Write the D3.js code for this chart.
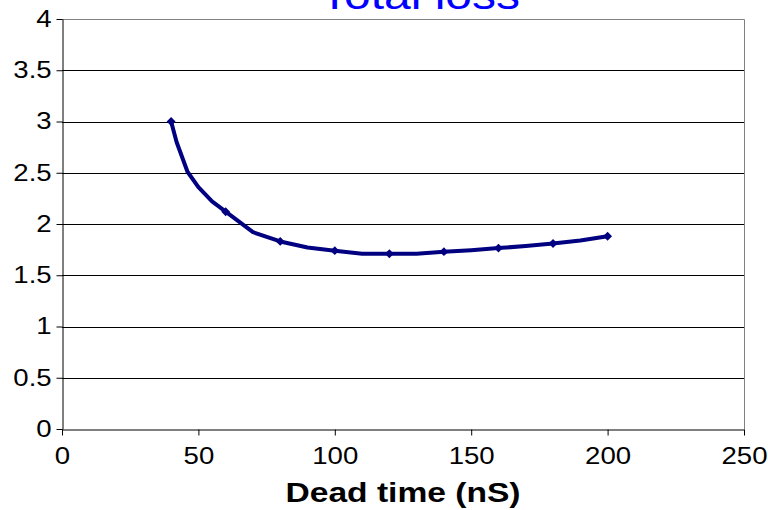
<!DOCTYPE html>
<html>
<head>
<meta charset="utf-8">
<script src="https://cdn.jsdelivr.net/npm/d3@7"></script>
<style>
  body { margin: 0; background: #fff; }
  text { font-family: Arial, "Liberation Sans", sans-serif; }
</style>
</head>
<body>
<script>
// dead time (nS) vs total loss, the line has more vertices than markers
var lossX = [40, 42, 46, 50, 55, 60, 70, 80, 90, 100, 110, 120, 130, 140, 150, 160, 170, 180, 190, 200];
var lossY = [3.0, 2.80, 2.51, 2.36, 2.22, 2.12, 1.92, 1.83, 1.77, 1.74, 1.71, 1.71, 1.71, 1.73, 1.745, 1.765, 1.785, 1.81, 1.84, 1.88];
var markerX = [40, 60, 80, 100, 120, 140, 160, 180, 200];

var xTicks = [0, 50, 100, 150, 200, 250],
    yTicks = [0, 0.5, 1, 1.5, 2, 2.5, 3, 3.5, 4];

var width = 768,
    height = 510,
    stretch = 1.2;

var plotL = 62, plotR = 744, plotT = 19, plotB = 429;

var x = d3.scaleLinear().domain([0, 250]).range([plotL, plotR]);
var y = d3.scaleLinear().domain([0, 4]).range([plotB, plotT]);

var svg = d3.select('body')
  .append('svg')
  .attr('width', width)
  .attr('height', height);

// grid lines
svg.append('g')
  .selectAll('line')
  .data(yTicks.filter(function(d) { return d > 0 && d < 4; }))
  .enter().append('line')
  .attr('x1', plotL)
  .attr('x2', plotR)
  .attr('y1', function(d) { return Math.round(y(d)) + 0.5; })
  .attr('y2', function(d) { return Math.round(y(d)) + 0.5; })
  .attr('stroke', '#000')
  .attr('stroke-width', 1);

// plot border (top and right in grey)
svg.append('path')
  .attr('d', 'M' + plotL + ',' + (plotT + 0.5) + 'H' + (plotR + 0.5) + 'V' + plotB)
  .attr('fill', 'none')
  .attr('stroke', '#808080')
  .attr('stroke-width', 1);

var xAxis = svg.append('g')
  .attr('transform', 'translate(0,' + (plotB + 0.5) + ')')
  .call(d3.axisBottom(x).tickValues(xTicks).tickSizeInner(6).tickSizeOuter(0));

var yAxis = svg.append('g')
  .attr('transform', 'translate(' + (plotL + 0.5) + ',0)')
  .call(d3.axisLeft(y).tickValues(yTicks).tickFormat(d3.format('')).tickSizeInner(6).tickSizeOuter(0));

[xAxis, yAxis].forEach(function(g) {
  g.select('.domain').attr('stroke', '#000');
  g.selectAll('.tick line').attr('stroke', '#000');
  g.selectAll('.tick text')
    .attr('fill', '#000')
    .style('font-size', '23px')
    .attr('transform', 'scale(' + stretch + ',1)');
});

yAxis.selectAll('.tick text').attr('x', -9);
xAxis.selectAll('.tick text').attr('y', 18);

// line
var line = d3.line()
  .x(function(d) { return x(d[0]); })
  .y(function(d) { return y(d[1]); });

var pts = lossX.map(function(d, i) { return [d, lossY[i]]; });

svg.append('path')
  .datum(pts)
  .attr('d', line)
  .attr('fill', 'none')
  .attr('stroke', '#000080')
  .attr('stroke-width', 4)
  .attr('stroke-linejoin', 'round');

svg.append('g')
  .selectAll('path')
  .data(pts.filter(function(d) { return markerX.indexOf(d[0]) >= 0; }))
  .enter().append('path')
  .attr('transform', function(d) { return 'translate(' + x(d[0]) + ',' + y(d[1]) + ')'; })
  .attr('d', d3.symbol().type(d3.symbolDiamond2).size(50))
  .attr('fill', '#000080');

// titles
svg.append('text')
  .attr('transform', 'translate(420,9) scale(' + stretch + ',1)')
  .attr('text-anchor', 'middle')
  .style('font-size', '40px')
  .attr('fill', '#0000ff')
  .text('Total loss');

svg.append('text')
  .attr('transform', 'translate(403,502) scale(' + stretch + ',1)')
  .attr('text-anchor', 'middle')
  .style('font-size', '28px')
  .style('font-weight', 'bold')
  .attr('fill', '#000')
  .text('Dead time (nS)');
</script>
</body>
</html>
